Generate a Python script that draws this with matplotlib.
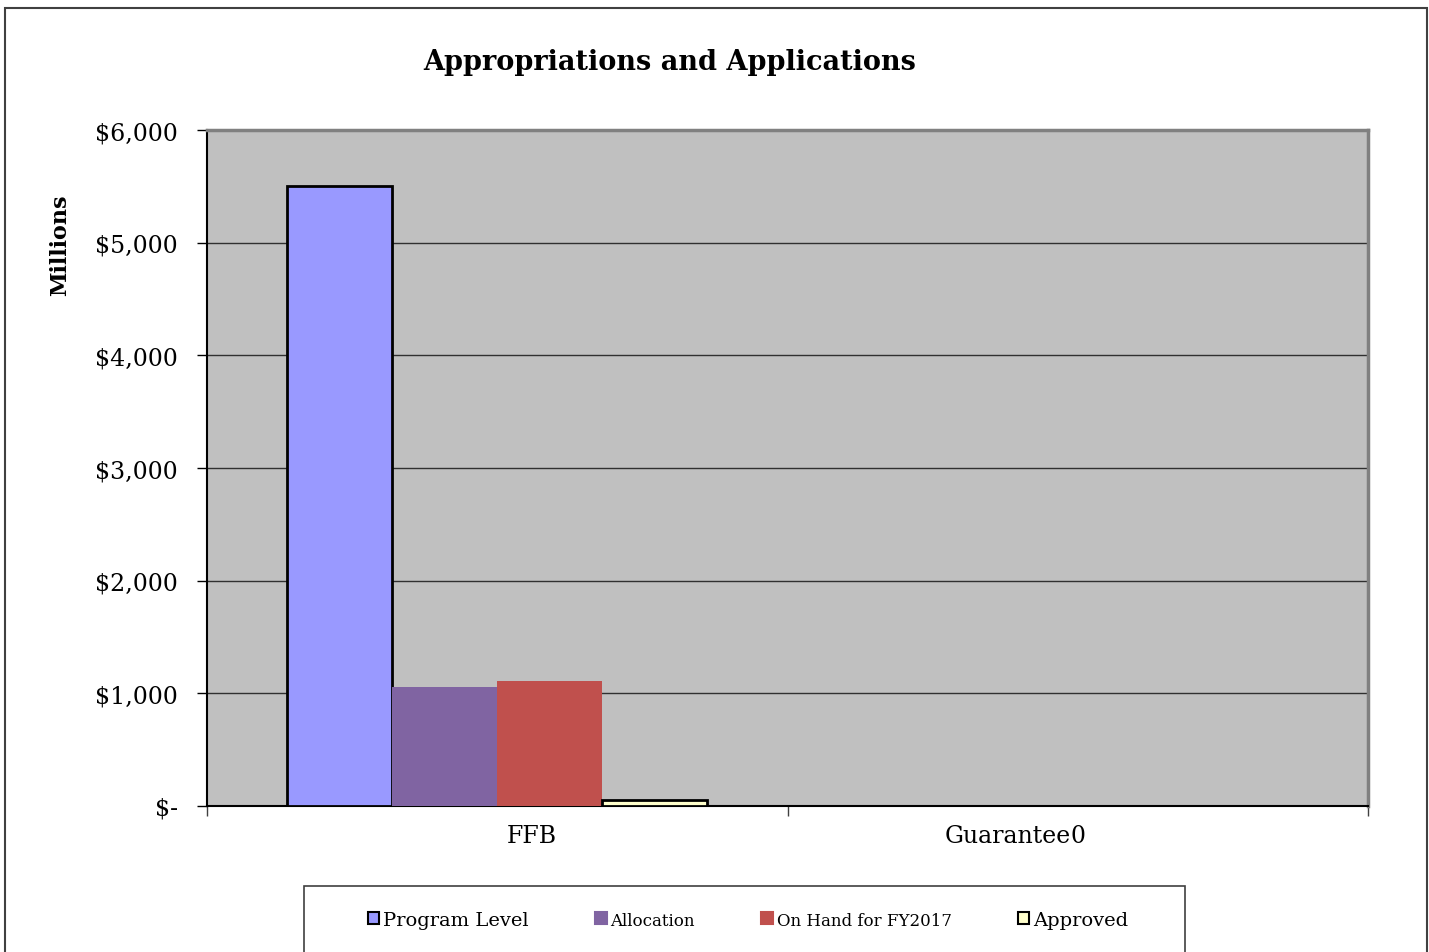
import numpy as np
import matplotlib.pyplot as plt
from matplotlib.patches import Rectangle, Patch

categories = ["FFB", "Guarantee"]
series_names = ["Program Level", "Allocation", "On Hand for FY2017", "Approved"]
program_level = [5500, 0]
allocation = [1055, 0]
on_hand = [1110, 0]
approved = [55, 0]
y_ticks = [0, 1000, 2000, 3000, 4000, 5000, 6000]

colors = ["#9999FF", "#8064A2", "#C0504D", "#FFFFCC"]
edges = ["black", "none", "none", "black"]

plt.rcParams['font.family'] = ['DejaVu Serif']

fig = plt.figure(figsize=(14.29, 9.53), dpi=100)
ax = fig.add_axes([207 / 1429, 1 - 807 / 953, (1368 - 207) / 1429, (807 - 131) / 953])
ax.set_facecolor("#C0C0C0")

x = np.arange(len(categories))
w = 0.181
series = [program_level, allocation, on_hand, approved]
handles = []
for i, vals in enumerate(series):
    off = (i - 1.5) * w
    ax.bar(x + off, vals, width=w, color=colors[i], edgecolor=edges[i],
           linewidth=2 if edges[i] != "none" else 0, zorder=3)
    handles.append(Patch(facecolor=colors[i], edgecolor="black" if edges[i] != "none" else colors[i],
                         linewidth=1.5))

ax.set_xlim(-0.5, 1.5)
ax.set_ylim(0, 6000)
ax.set_yticks(y_ticks)
ax.set_yticklabels(["$-" if v == 0 else "${:,}".format(v) for v in y_ticks], fontsize=17)
ax.yaxis.grid(True, color="#303030", linewidth=1, zorder=1)
ax.tick_params(axis="y", length=7, width=1, direction="out", pad=14)

ax.set_xticks([-0.5, 0.5, 1.5])
ax.set_xticklabels([])
ax.tick_params(axis="x", length=7, width=1, direction="out", color="#404040")

# category labels (offset like the original, "0" sits on the end of the second one)
tr = ax.get_xaxis_transform()
ax.text(0.06, -0.027, categories[0], transform=tr, ha="center", va="top", fontsize=17)
ax.text(0.88, -0.027, categories[1], transform=tr, ha="center", va="top", fontsize=17)
ax.text(1.0, -0.027, "0", transform=tr, ha="center", va="top", fontsize=17)

for s in ["left", "bottom"]:
    ax.spines[s].set_color("black")
    ax.spines[s].set_linewidth(1.5)
for s in ["top", "right"]:
    ax.spines[s].set_color("#808080")
    ax.spines[s].set_linewidth(2.5)

fig.text(60 / 1429, 1 - 245 / 953, "Millions", rotation=90,
         ha="center", va="center", fontsize=16, fontweight="bold")

fig.text(670 / 1429, 1 - 62 / 953, "Appropriations and Applications",
         ha="center", va="center", fontsize=19.5, fontweight="bold")

# outer chart border
fig.add_artist(Rectangle((5 / 1429, -0.1), (1427 - 5) / 1429, 1 - 9 / 953 + 0.1,
                         transform=fig.transFigure, fill=False, edgecolor="#404040",
                         linewidth=1.5))

# legend box (clipped by the page bottom)
fig.add_artist(Rectangle((304 / 1429, -0.1), (1185 - 304) / 1429, 1 - 887 / 953 + 0.1,
                         transform=fig.transFigure, fill=False, edgecolor="#404040",
                         linewidth=1.2))
leg = fig.legend(handles, series_names, loc="center", ncol=4,
                 bbox_to_anchor=(748 / 1429, 1 - 921 / 953), frameon=False,
                 handlelength=0.6, handleheight=0.6, handletextpad=0.2,
                 columnspacing=3.4, fontsize=14)
for t, fs in zip(leg.get_texts(), [14, 12, 12, 14]):
    t.set_fontsize(fs)

fig.savefig("out.png", dpi=100)
